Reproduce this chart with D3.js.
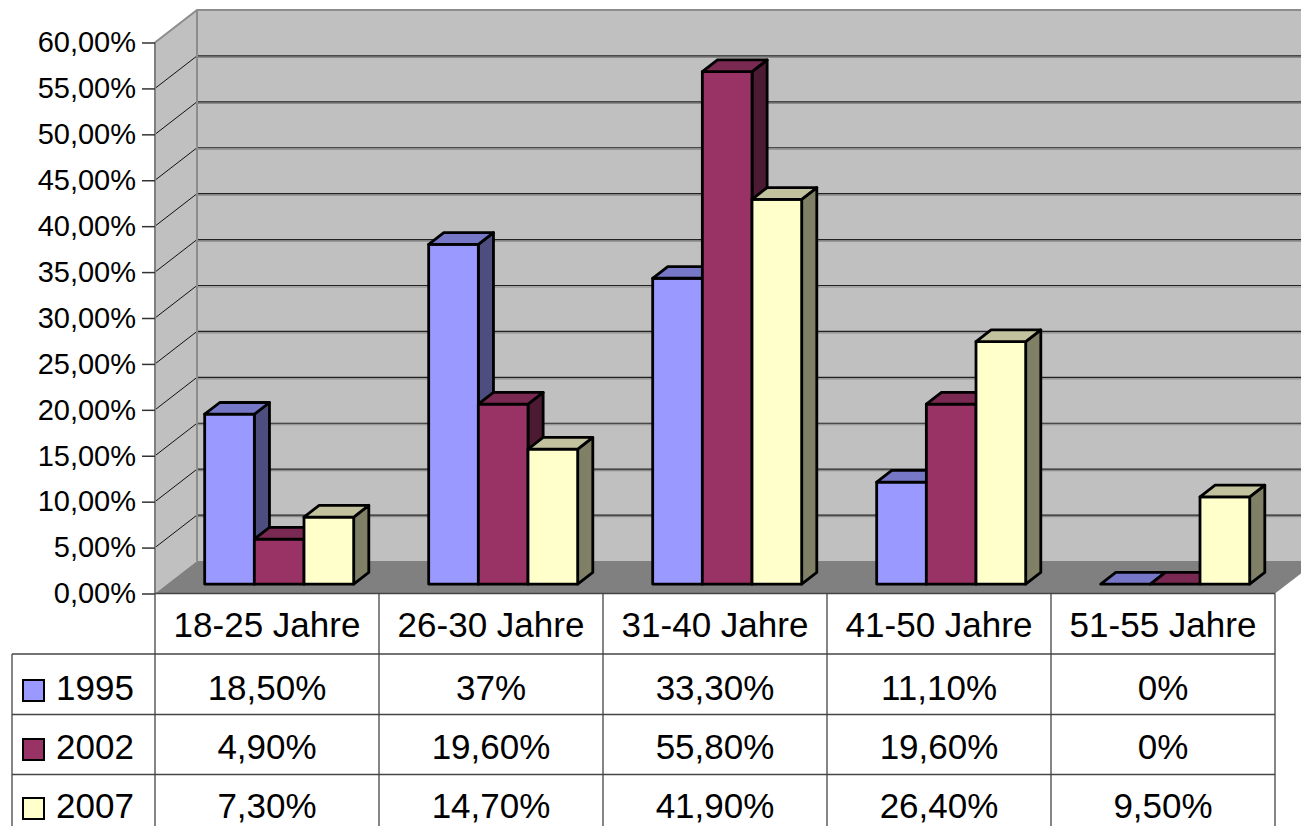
<!DOCTYPE html>
<html>
<head>
<meta charset="utf-8">
<script src="https://cdn.jsdelivr.net/npm/d3@7"></script>
<style>
  body { margin: 0; background: #fff; }
  text { font-family: "Liberation Sans", Arial, sans-serif; fill: #000; }
</style>
</head>
<body>
<div class="canvas"></div>
<script>
// data
const categories = ['18-25 Jahre', '26-30 Jahre', '31-40 Jahre', '41-50 Jahre', '51-55 Jahre'];
const series = ['1995', '2002', '2007'];
const values1995 = [18.5, 37, 33.3, 11.1, 0];
const values2002 = [4.9, 19.6, 55.8, 19.6, 0];
const values2007 = [7.3, 14.7, 41.9, 26.4, 9.5];
const labels1995 = ['18,50%', '37%', '33,30%', '11,10%', '0%'];
const labels2002 = ['4,90%', '19,60%', '55,80%', '19,60%', '0%'];
const labels2007 = ['7,30%', '14,70%', '41,90%', '26,40%', '9,50%'];
const yTicks = [0, 5, 10, 15, 20, 25, 30, 35, 40, 45, 50, 55, 60];
const yTickLabels = ['0,00%', '5,00%', '10,00%', '15,00%', '20,00%', '25,00%', '30,00%',
  '35,00%', '40,00%', '45,00%', '50,00%', '55,00%', '60,00%'];

const seriesValues = [values1995, values2002, values2007];
const seriesLabels = [labels1995, labels2002, labels2007];
const colors = {
  front: ['#9999ff', '#993366', '#ffffcc'],
  top: ['#7777c8', '#7a2952', '#c2c29e'],
  side: ['#4d4d80', '#4d1a33', '#808066']
};

const svg = d3.select('.canvas')
  .append('svg')
    .attr('width', 1301)
    .attr('height', 826);

// plot geometry
const left = 155, right = 1275, floorY = 593.5;
const depthX = 42, depthY = 32.5;

const h = d3.scaleLinear().domain([0, 60]).range([0, 551]);
const x = d3.scaleBand().domain(categories).range([left, right]);
const xs = d3.scaleBand().domain(series).range([0, 149]);

// 3d projection: x on front, value, depth 0..1
const proj = (px, v, z) => [px + depthX * z, floorY - depthY * z - h(v)];
const pts = arr => arr.map(p => p.join(',')).join(' ');

// walls
svg.append('polygon')
  .attr('points', pts([proj(left, 0, 0), proj(left, 60, 0), proj(left, 60, 1), proj(left, 0, 1)]))
  .attr('fill', '#c0c0c0');
svg.append('polygon')
  .attr('points', pts([proj(left, 0, 1), proj(left, 60, 1), proj(right, 60, 1), proj(right, 0, 1)]))
  .attr('fill', '#c0c0c0');

// gridlines
const grid = svg.append('g');
yTicks.filter(d => d > 0 && d < 60).forEach(v => {
  const a = proj(left, v, 0), b = proj(left, v, 1), c = proj(right, v, 1);
  grid.append('line')
    .attr('x1', b[0]).attr('y1', b[1] + 1.5).attr('x2', c[0]).attr('y2', c[1] + 1.5)
    .attr('stroke', '#8a8a8a').attr('stroke-width', 1.2);
  grid.append('line')
    .attr('x1', b[0]).attr('y1', b[1]).attr('x2', c[0]).attr('y2', c[1])
    .attr('stroke', '#222').attr('stroke-width', 1.2);
  grid.append('line')
    .attr('x1', a[0]).attr('y1', a[1]).attr('x2', b[0]).attr('y2', b[1])
    .attr('stroke', '#111').attr('stroke-width', 1);
});

// wall edges
const topA = proj(left, 60, 0), topB = proj(left, 60, 1), topC = proj(right, 60, 1);
svg.append('polyline')
  .attr('points', pts([topA, topB, topC]))
  .attr('fill', 'none').attr('stroke', '#8c8c8c').attr('stroke-width', 2);
svg.append('line')
  .attr('x1', topB[0]).attr('y1', topB[1]).attr('x2', topB[0]).attr('y2', proj(left, 0, 1)[1])
  .attr('stroke', '#8c8c8c').attr('stroke-width', 2);
svg.append('line')
  .attr('x1', left).attr('y1', topA[1]).attr('x2', left).attr('y2', floorY)
  .attr('stroke', '#808080').attr('stroke-width', 2);

// floor
svg.append('polygon')
  .attr('points', pts([proj(left, 0, 0), proj(right, 0, 0), proj(right, 0, 1), proj(left, 0, 1)]))
  .attr('fill', '#808080');

// y axis
const yAxisScale = d3.scaleLinear().domain([0, 60]).range([floorY, floorY - h(60)]);
const yAxis = d3.axisLeft(yAxisScale)
  .tickValues(yTicks)
  .tickSize(13)
  .tickPadding(6)
  .tickFormat((d, i) => yTickLabels[i]);
const yAxisGroup = svg.append('g')
  .attr('transform', `translate(${left}, 0)`)
  .call(yAxis);
yAxisGroup.select('.domain').remove();
yAxisGroup.selectAll('line').attr('stroke', '#333').attr('stroke-width', 1.5);
yAxisGroup.selectAll('text')
  .attr('font-size', 29)
  .attr('font-family', '"Liberation Sans", Arial, sans-serif')
  .attr('fill', '#000');

// bars
const z0 = 0.29, z1 = 0.65;
const bars = svg.append('g').attr('stroke', '#000').attr('stroke-width', 2.8).attr('stroke-linejoin', 'round');
categories.forEach((cat, ci) => {
  const gx = x(cat) + (x.bandwidth() - 149) / 2;
  series.forEach((s, si) => {
    const v = seriesValues[si][ci];
    const x0 = gx + xs(s), x1 = x0 + xs.bandwidth();
    const g = bars.append('g');
    if (v > 0) {
      g.append('polygon')
        .attr('points', pts([proj(x1, 0, z0), proj(x1, v, z0), proj(x1, v, z1), proj(x1, 0, z1)]))
        .attr('fill', colors.side[si]);
      g.append('polygon')
        .attr('points', pts([proj(x0, 0, z0), proj(x1, 0, z0), proj(x1, v, z0), proj(x0, v, z0)]))
        .attr('fill', colors.front[si]);
    }
    g.append('polygon')
      .attr('points', pts([proj(x0, v, z0), proj(x1, v, z0), proj(x1, v, z1), proj(x0, v, z1)]))
      .attr('fill', colors.top[si]);
  });
});

// data table
const table = svg.append('g');
const rowTops = [654, 714.5, 774.5];
const lineColor = '#444';
table.append('line')
  .attr('x1', left).attr('y1', floorY).attr('x2', right).attr('y2', floorY)
  .attr('stroke', lineColor).attr('stroke-width', 1.3);
rowTops.forEach(y => {
  table.append('line')
    .attr('x1', 12).attr('y1', y).attr('x2', right).attr('y2', y)
    .attr('stroke', lineColor).attr('stroke-width', 1.3);
});
table.append('line')
  .attr('x1', 12).attr('y1', rowTops[0]).attr('x2', 12).attr('y2', 826)
  .attr('stroke', lineColor).attr('stroke-width', 1.3);
categories.forEach(cat => {
  table.append('line')
    .attr('x1', x(cat)).attr('y1', floorY).attr('x2', x(cat)).attr('y2', 826)
    .attr('stroke', lineColor).attr('stroke-width', 1.3);
});
table.append('line')
  .attr('x1', right).attr('y1', floorY).attr('x2', right).attr('y2', 826)
  .attr('stroke', lineColor).attr('stroke-width', 1.3);

// category header
table.selectAll('text.cat')
  .data(categories)
  .enter()
  .append('text')
    .attr('class', 'cat')
    .attr('x', d => x(d) + x.bandwidth() / 2)
    .attr('y', 637)
    .attr('text-anchor', 'middle')
    .attr('font-size', 35)
    .text(d => d);

// rows
const baselines = [700, 759, 818];
series.forEach((s, si) => {
  table.append('rect')
    .attr('x', 23).attr('y', baselines[si] - 20)
    .attr('width', 21).attr('height', 21)
    .attr('fill', colors.front[si])
    .attr('stroke', '#000').attr('stroke-width', 2);
  table.append('text')
    .attr('x', 56).attr('y', baselines[si])
    .attr('font-size', 35)
    .text(s);
  table.selectAll(null)
    .data(seriesLabels[si])
    .enter()
    .append('text')
      .attr('x', (d, i) => x(categories[i]) + x.bandwidth() / 2)
      .attr('y', baselines[si])
      .attr('text-anchor', 'middle')
      .attr('font-size', 35)
      .text(d => d);
});
</script>
</body>
</html>
